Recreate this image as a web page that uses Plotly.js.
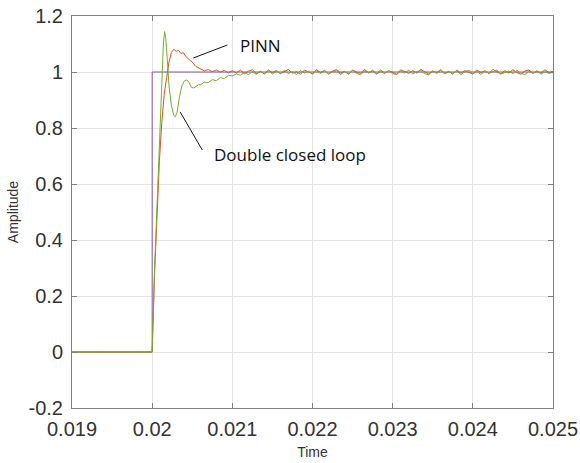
<!DOCTYPE html>
<html>
<head>
<meta charset="utf-8">
<script src="https://cdn.plot.ly/plotly-3.0.1.min.js"></script>
<style>html,body{margin:0;padding:0;background:#fff;}#chart{width:580px;height:463px;}</style>
</head>
<body>
<div id="chart"></div>
<script>
// ---- data ----
const stepT = [0.019, 0.02, 0.02, 0.025];
const stepV = [0, 0, 1, 1];

const pinnTransT = [0.019, 0.02, 0.02003, 0.02006, 0.02009, 0.02012, 0.02015, 0.02018, 0.02021, 0.02024, 0.02027, 0.0203, 0.02033, 0.02036, 0.02039, 0.02042, 0.02045, 0.02048, 0.02051, 0.02054, 0.02057];
const pinnTransV = [0, 0, 0.28, 0.5, 0.68, 0.82, 0.92, 0.98, 1.035, 1.07, 1.081, 1.074, 1.077, 1.066, 1.069, 1.055, 1.049, 1.04, 1.032, 1.021, 1.016];

const dclTransT = [0.019, 0.02, 0.02003, 0.02006, 0.02009, 0.02012, 0.02014, 0.020155, 0.02017, 0.02019, 0.02021, 0.02024, 0.02027, 0.02029, 0.02031, 0.02034, 0.02037, 0.0204, 0.02043, 0.02046, 0.02049, 0.02052, 0.02055, 0.02058];
const dclTransV = [0, 0, 0.3, 0.52, 0.72, 0.97, 1.1, 1.144, 1.12, 1.04, 0.95, 0.88, 0.845, 0.84, 0.855, 0.91, 0.95, 0.967, 0.972, 0.963, 0.945, 0.943, 0.95, 0.955];

const steadyT = [
  0.02060, 0.02065, 0.02070, 0.02075, 0.02080, 0.02085, 0.02090, 0.02095,
  0.02100, 0.02105, 0.02110, 0.02115, 0.02120, 0.02125, 0.02130, 0.02135, 0.02140, 0.02145,
  0.02150, 0.02155, 0.02160, 0.02165, 0.02170, 0.02175, 0.02180, 0.02185, 0.02190, 0.02195,
  0.02200, 0.02205, 0.02210, 0.02215, 0.02220, 0.02225, 0.02230, 0.02235, 0.02240, 0.02245,
  0.02250, 0.02255, 0.02260, 0.02265, 0.02270, 0.02275, 0.02280, 0.02285, 0.02290, 0.02295,
  0.02300, 0.02305, 0.02310, 0.02315, 0.02320, 0.02325, 0.02330, 0.02335, 0.02340, 0.02345,
  0.02350, 0.02355, 0.02360, 0.02365, 0.02370, 0.02375, 0.02380, 0.02385, 0.02390, 0.02395,
  0.02400, 0.02405, 0.02410, 0.02415, 0.02420, 0.02425, 0.02430, 0.02435, 0.02440, 0.02445,
  0.02450, 0.02455, 0.02460, 0.02465, 0.02470, 0.02475, 0.02480, 0.02485, 0.02490, 0.02495,
  0.02500
];
const pinnSteadyV = [
  1.012, 1.004, 1.009, 1.001, 1.007, 0.999, 1.006, 0.997,
  1.005, 0.996, 1.007, 0.994, 1.003, 1.008, 0.995, 1.002, 0.993, 1.007,
  0.998, 1.005, 0.994, 1.003, 1.009, 0.996, 1.001, 0.992, 1.007, 1.000,
  0.994, 1.008, 0.998, 1.005, 0.993, 1.003, 1.009, 0.996, 1.002, 0.992,
  1.007, 1.000, 0.995, 1.008, 0.998, 1.004, 0.993, 1.007, 0.996, 1.005,
  0.998, 0.992, 1.008, 1.002, 0.995, 1.005, 0.996, 1.009, 1.000, 0.993,
  1.004, 0.998, 1.008, 0.995, 1.002, 0.992, 1.007, 0.996, 1.005, 1.000,
  0.993, 1.007, 0.998, 1.004, 0.995, 1.009, 1.000, 0.993, 1.005, 0.996,
  1.008, 0.998, 0.992, 1.004, 1.007, 0.995, 1.002, 0.996, 1.008, 0.998,
  1.002
];
const dclSteadyV = [
  0.954, 0.964, 0.962, 0.973, 0.969, 0.980, 0.976, 0.988,
  0.986, 0.993, 0.989, 0.998, 0.991, 1.001, 0.992, 1.003, 0.994, 1.004,
  0.993, 1.003, 0.995, 1.006, 0.994, 1.001, 0.991, 1.005, 0.996, 1.003,
  0.992, 1.004, 0.995, 1.006, 0.993, 1.000, 1.004, 0.991, 1.002, 0.994,
  1.006, 0.995, 0.990, 1.003, 0.996, 1.007, 0.993, 1.001, 0.995, 1.005,
  0.994, 0.991, 1.003, 0.996, 1.006, 0.993, 1.001, 1.005, 0.994, 0.990,
  1.003, 0.995, 1.006, 0.993, 1.002, 0.995, 1.004, 0.991, 1.001, 1.006,
  0.994, 1.002, 0.991, 1.004, 0.995, 1.001, 1.007, 0.993, 0.998, 1.003,
  0.994, 1.006, 0.995, 0.991, 1.002, 0.996, 1.005, 0.992, 1.001, 0.995,
  0.998
];

const xTickVals = [0.019, 0.02, 0.021, 0.022, 0.023, 0.024, 0.025];
const xTickText = ['0.019', '0.02', '0.021', '0.022', '0.023', '0.024', '0.025'];
const yTickVals = [-0.2, 0, 0.2, 0.4, 0.6, 0.8, 1, 1.2];
const yTickText = ['-0.2', '0', '0.2', '0.4', '0.6', '0.8', '1', '1.2'];

// annotation placement (data coordinates)
const pinnLabel = {text: 'PINN', x: 0.021075, y: 1.0964, lx0: 0.0205125, ly0: 1.05, lx1: 0.0209375, ly1: 1.0964};
const dclLabel = {text: 'Double closed loop', x: 0.020746, y: 0.7036, lx0: 0.02035, ly0: 0.857, lx1: 0.020625, ly1: 0.7214};

// ---- traces ----
const traces = [
  {x: stepT, y: stepV, type: 'scatter', mode: 'lines', line: {color: '#8A55A8', width: 1}},
  {x: pinnTransT.concat(steadyT), y: pinnTransV.concat(pinnSteadyV), type: 'scatter', mode: 'lines', line: {color: '#D95319', width: 1}},
  {x: dclTransT.concat(steadyT), y: dclTransV.concat(dclSteadyV), type: 'scatter', mode: 'lines', line: {color: '#77AC30', width: 1}}
];

const sansFamily = 'Arial, "Liberation Sans", sans-serif';
const axisCommon = {
  showline: true, linecolor: '#808080', linewidth: 1, mirror: 'ticks',
  ticks: 'inside', ticklen: 5, tickcolor: '#808080', tickwidth: 1,
  showgrid: true, gridcolor: '#e3e3e3', gridwidth: 1, zeroline: false,
  tickfont: {family: sansFamily, size: 20, color: '#333333'}
};

const layout = {
  width: 580, height: 463,
  margin: {l: 72, r: 27, t: 16, b: 55},
  paper_bgcolor: '#ffffff', plot_bgcolor: '#ffffff',
  showlegend: false,
  xaxis: Object.assign({}, axisCommon, {
    range: [0.019, 0.025], tickmode: 'array', tickvals: xTickVals, ticktext: xTickText,
    ticklabelstandoff: 3,
    title: {text: 'Time', font: {family: sansFamily, size: 14, color: '#333333'}, standoff: 8}
  }),
  yaxis: Object.assign({}, axisCommon, {
    range: [-0.2, 1.2], tickmode: 'array', tickvals: yTickVals, ticktext: yTickText,
    ticklabelstandoff: 4,
    title: {text: 'Amplitude', font: {family: sansFamily, size: 14, color: '#333333'}, standoff: 6}
  }),
  shapes: [
    {type: 'line', xref: 'x', yref: 'y', x0: pinnLabel.lx0, y0: pinnLabel.ly0, x1: pinnLabel.lx1, y1: pinnLabel.ly1, line: {color: '#111111', width: 1}},
    {type: 'line', xref: 'x', yref: 'y', x0: dclLabel.lx0, y0: dclLabel.ly0, x1: dclLabel.lx1, y1: dclLabel.ly1, line: {color: '#111111', width: 1}}
  ],
  annotations: [
    {text: pinnLabel.text, x: pinnLabel.x, y: pinnLabel.y, xref: 'x', yref: 'y', xanchor: 'left', yanchor: 'middle', showarrow: false,
     font: {family: 'Open Sans, sans-serif', size: 17, color: '#111111'}},
    {text: dclLabel.text, x: dclLabel.x, y: dclLabel.y, xref: 'x', yref: 'y', xanchor: 'left', yanchor: 'middle', showarrow: false,
     font: {family: 'Open Sans, sans-serif', size: 17, color: '#111111'}}
  ]
};

Plotly.newPlot('chart', traces, layout, {displayModeBar: false, staticPlot: true});
</script>
</body>
</html>
